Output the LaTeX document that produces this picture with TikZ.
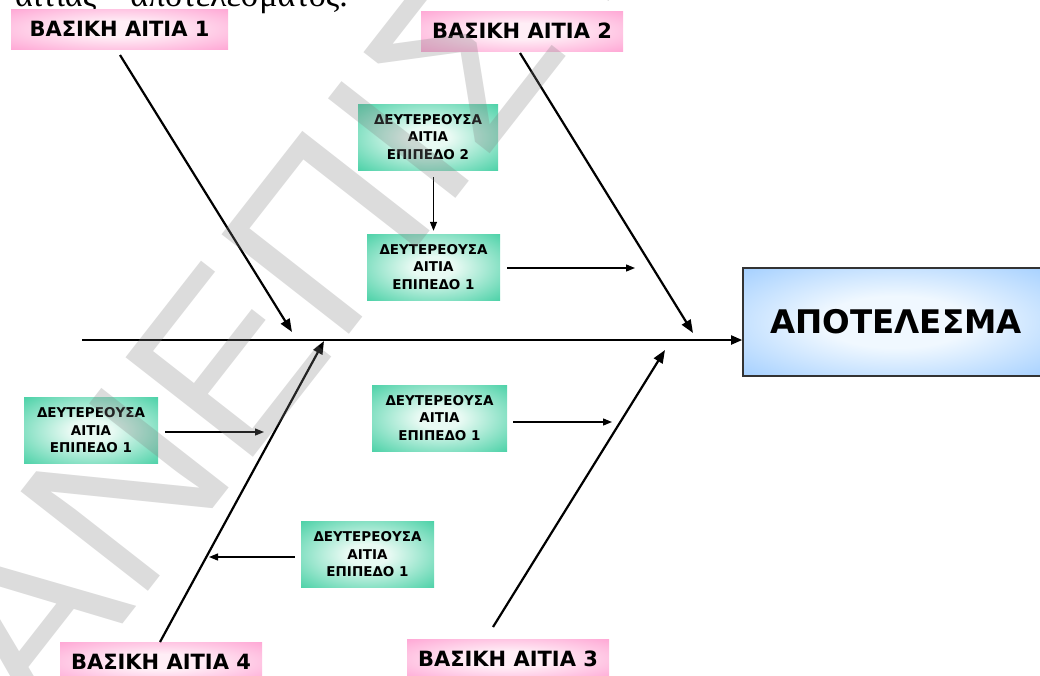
\documentclass[tikz,border=0pt]{standalone}
\usepackage{fontspec}
\setmainfont{DejaVu Sans}
\newfontfamily\serifgr{Liberation Serif}
\newfontfamily\wmfont{Liberation Sans}
\usetikzlibrary{arrows.meta}

% fill colours of the three kinds of boxes
\definecolor{pinkedge}{RGB}{255,150,205}
\definecolor{pinkcore}{RGB}{255,238,246}
\definecolor{greenedge}{RGB}{40,200,150}
\definecolor{greencore}{RGB}{232,250,243}
\definecolor{blueedge}{RGB}{150,200,255}
\definecolor{bluecore}{RGB}{240,248,255}

% soft glow: light centre fading to the edge colour
\pgfdeclareradialshading{pinkglow}{\pgfpoint{0bp}{0bp}}{color(0bp)=(pinkcore); color(10bp)=(pinkcore); color(42bp)=(pinkedge); color(50bp)=(pinkedge)}
\pgfdeclareradialshading{greenglow}{\pgfpoint{0bp}{0bp}}{color(0bp)=(greencore); color(8bp)=(greencore); color(42bp)=(greenedge); color(50bp)=(greenedge)}
\pgfdeclareradialshading{blueglow}{\pgfpoint{0bp}{0bp}}{color(0bp)=(bluecore); color(12bp)=(bluecore); color(40bp)=(blueedge); color(50bp)=(blueedge)}

\begin{document}
\begin{tikzpicture}[x=1pt,y=-1pt,
  causebox/.style={rectangle, shade, shading=pinkglow, inner sep=0pt,
    minimum height=40pt, font=\bfseries\fontsize{21}{21}\selectfont},
  subbox/.style={rectangle, shade, shading=greenglow, inner sep=0pt,
    minimum width=134pt, minimum height=66pt, align=center,
    font=\bfseries\fontsize{13.5}{17.5}\selectfont},
  resultbox/.style={rectangle, shade, shading=blueglow, draw=black!80,
    line width=1.6pt, minimum width=306pt, minimum height=108pt,
    font=\bfseries\fontsize{32.5}{32.5}\selectfont},
  bone/.style={line width=2.2pt, -{Triangle[length=13pt,width=10pt]}},
  spineline/.style={line width=1.8pt, -{Triangle[length=11pt,width=9pt]}},
  twig/.style={line width=1.3pt, -{Triangle[length=9pt,width=7pt]}},
  wmark/.style={inner sep=0pt, text=gray, opacity=0.28,
    font=\wmfont\fontsize{235}{235}\selectfont}
]
\useasboundingbox (0,0) rectangle (1040,675);

% running text of the page, cut by the top edge
\node[anchor=base west, inner sep=0pt, font=\serifgr\fontsize{34}{34}\selectfont]
  (cap) at (15,6) {αιτίας – αποτελέσματος.};

% main causes
\node[causebox, minimum width=217pt] (c1) at (119.5,29) {ΒΑΣΙΚΗ ΑΙΤΙΑ 1};
\node[causebox, minimum width=202pt] (c2) at (522,31) {ΒΑΣΙΚΗ ΑΙΤΙΑ 2};
\node[causebox, minimum width=202pt] (c3) at (508,659) {ΒΑΣΙΚΗ ΑΙΤΙΑ 3};
\node[causebox, minimum width=202pt] (c4) at (161,662) {ΒΑΣΙΚΗ ΑΙΤΙΑ 4};

% effect
\node[resultbox] (res) at (896,322) {ΑΠΟΤΕΛΕΣΜΑ};

% secondary causes
\node[subbox, minimum width=140pt] (g2) at (428,137) {ΔΕΥΤΕΡΕΟΥΣΑ\\ΑΙΤΙΑ\\ΕΠΙΠΕΔΟ 2};
\node[subbox, minimum width=133pt] (g1) at (433.5,267) {ΔΕΥΤΕΡΕΟΥΣΑ\\ΑΙΤΙΑ\\ΕΠΙΠΕΔΟ 1};
\node[subbox] (gl) at (91,430.5) {ΔΕΥΤΕΡΕΟΥΣΑ\\ΑΙΤΙΑ\\ΕΠΙΠΕΔΟ 1};
\node[subbox, minimum width=135pt] (gm) at (439.5,418) {ΔΕΥΤΕΡΕΟΥΣΑ\\ΑΙΤΙΑ\\ΕΠΙΠΕΔΟ 1};
\node[subbox, minimum width=133pt] (gb) at (367.5,554.5) {ΔΕΥΤΕΡΕΟΥΣΑ\\ΑΙΤΙΑ\\ΕΠΙΠΕΔΟ 1};

% spine
\coordinate (sp) at (82,340);
\draw[spineline] (sp) -- (sp -| res.west);

% main bones
\coordinate (b1s) at (120,55);  \coordinate (b1e) at (292,332);
\coordinate (b2s) at (520,53);  \coordinate (b2e) at (693,333);
\coordinate (b3s) at (493,627); \coordinate (b3e) at (665,350);
\coordinate (b4s) at (160,642); \coordinate (b4e) at (324,341);
\draw[bone] (b1s) -- (b1e);
\draw[bone] (b2s) -- (b2e);
\draw[bone] (b3s) -- (b3e);
\draw[bone] (b4s) -- (b4e);

% small arrows from the secondary causes
\draw[twig, shorten <=7pt, shorten >=3pt] (g1.north |- g2.south) -- (g1.north);
\coordinate (t1) at (635,268);
\draw[twig, shorten <=7pt] (g1.east |- t1) -- (t1);
\coordinate (tl) at (264,432);
\draw[twig, shorten <=7pt] (gl.east |- tl) -- (tl);
\coordinate (tm) at (612,422);
\draw[twig, shorten <=6pt] (gm.east |- tm) -- (tm);
\coordinate (tb) at (209,557);
\draw[twig, shorten <=6pt] (gb.west |- tb) -- (tb);

% watermark over the page
\node[wmark, rotate=52, anchor=base west] (wm) at (40,730) {ΑΝΕΠΙΣΤΗΜΙΟ};
\end{tikzpicture}
\end{document}
